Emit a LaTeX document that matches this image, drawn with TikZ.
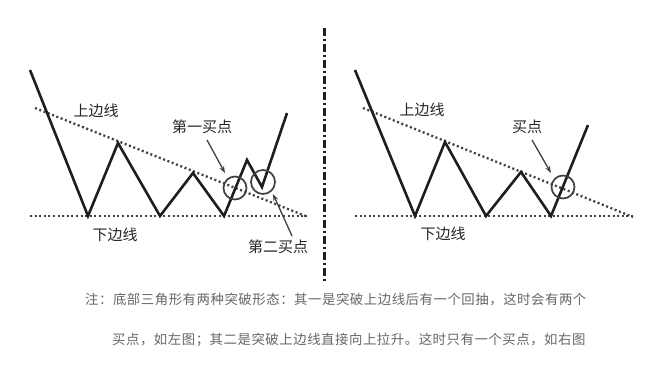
\documentclass[tikz,border=0pt]{standalone}
\usepackage{fontspec}
\usetikzlibrary{arrows.meta}
\newfontfamily\cjk{Noto Sans CJK SC}
\newfontfamily\capfont[LetterSpace=4]{Noto Sans CJK SC}
\definecolor{ink}{HTML}{1E1E1E}
\definecolor{lbl}{HTML}{262626}
\definecolor{capgray}{HTML}{666666}
\tikzset{
  price/.style={draw=ink, line width=2.6pt, line join=miter},
  guide/.style={draw=ink!85, line width=2.3pt, dash pattern=on 2pt off 2.6pt},
  ring/.style={draw=ink!85, line width=1.7pt},
  pointer/.style={draw=ink!85, line width=1.3pt, -{Stealth[length=7pt,width=5pt]}},
  lab/.style={font=\cjk\fontsize{15}{15}\selectfont, text=lbl, inner sep=0pt},
  captext/.style={font=\capfont\fontsize{13.4}{13.4}\selectfont, text=capgray, inner sep=0pt, anchor=west},
  divider/.style={draw=ink, line width=3pt, dash pattern=on 8pt off 3pt on 2pt off 3pt}
}
\begin{document}
\begin{tikzpicture}[x=1pt,y=-1pt]
\useasboundingbox (0,0) rectangle (656,366);
% ---------- left chart ----------
\coordinate (La) at (30,70);
\coordinate (Lb) at (88,216);
\coordinate (Lc) at (118,143);
\coordinate (Ld) at (160,216);
\coordinate (Le) at (193,173);
\coordinate (Lf) at (224,216);
\coordinate (Lg) at (247,160);
\coordinate (Lh) at (262,187);
\coordinate (Li) at (287,113);
\coordinate (LuA) at (35,108);
\coordinate (LuB) at (308,217);
\coordinate (LlA) at (30,216);
\coordinate (LlB) at (307,216);
\draw[guide] (LuA) -- (LuB);
\draw[guide] (LlA) -- (LlB);
\draw[price] (La) -- (Lb) -- (Lc) -- (Ld) -- (Le) -- (Lf) -- (Lg) -- (Lh) -- (Li);
\node[ring, circle, minimum size=23pt, inner sep=0pt] (c1) at (235,188) {};
\node[ring, circle, minimum size=24pt, inner sep=0pt] (c2) at (263,182) {};
\node[lab] (lu) at (96,111) {上边线};
\node[lab] (ll) at (115,235) {下边线};
\node[lab] (b1) at (202,127) {第一买点};
\node[lab] (b2) at (278,247) {第二买点};
\coordinate (a1s) at (207,140);
\coordinate (a1e) at (225,173);
\coordinate (a2s) at (292,236);
\coordinate (a2e) at (273,194);
\draw[pointer] (a1s) -- (a1e);
\draw[pointer] (a2s) -- (a2e);
% ---------- divider ----------
\coordinate (dT) at (324,28);
\coordinate (dB) at (324,282);
\draw[divider] (dT) -- (dB);
% ---------- right chart ----------
\coordinate (Ra) at (355,70);
\coordinate (Rb) at (415,216);
\coordinate (Rc) at (445,142);
\coordinate (Rd) at (486,216);
\coordinate (Re) at (521,172);
\coordinate (Rf) at (551,216);
\coordinate (Rg) at (588,125);
\coordinate (RuA) at (363,108);
\coordinate (RuB) at (633,217);
\coordinate (RlA) at (355,216);
\coordinate (RlB) at (635,216);
\draw[guide] (RuA) -- (RuB);
\draw[guide] (RlA) -- (RlB);
\draw[price] (Ra) -- (Rb) -- (Rc) -- (Rd) -- (Re) -- (Rf) -- (Rg);
\node[ring, circle, minimum size=23pt, inner sep=0pt] (c3) at (563,187) {};
\node[lab] (ru) at (422,110) {上边线};
\node[lab] (rl) at (443,234) {下边线};
\node[lab] (b3) at (527,127) {买点};
\coordinate (a3s) at (532,140);
\coordinate (a3e) at (551,173);
\draw[pointer] (a3s) -- (a3e);
% ---------- caption ----------
\node[captext] (cap1) at (85,300) {注：底部三角形有两种突破形态：其一是突破上边线后有一个回抽，这时会有两个};
\node[captext] (cap2) at (112,340) {买点，如左图；其二是突破上边线直接向上拉升。这时只有一个买点，如右图};
\end{tikzpicture}
\end{document}
